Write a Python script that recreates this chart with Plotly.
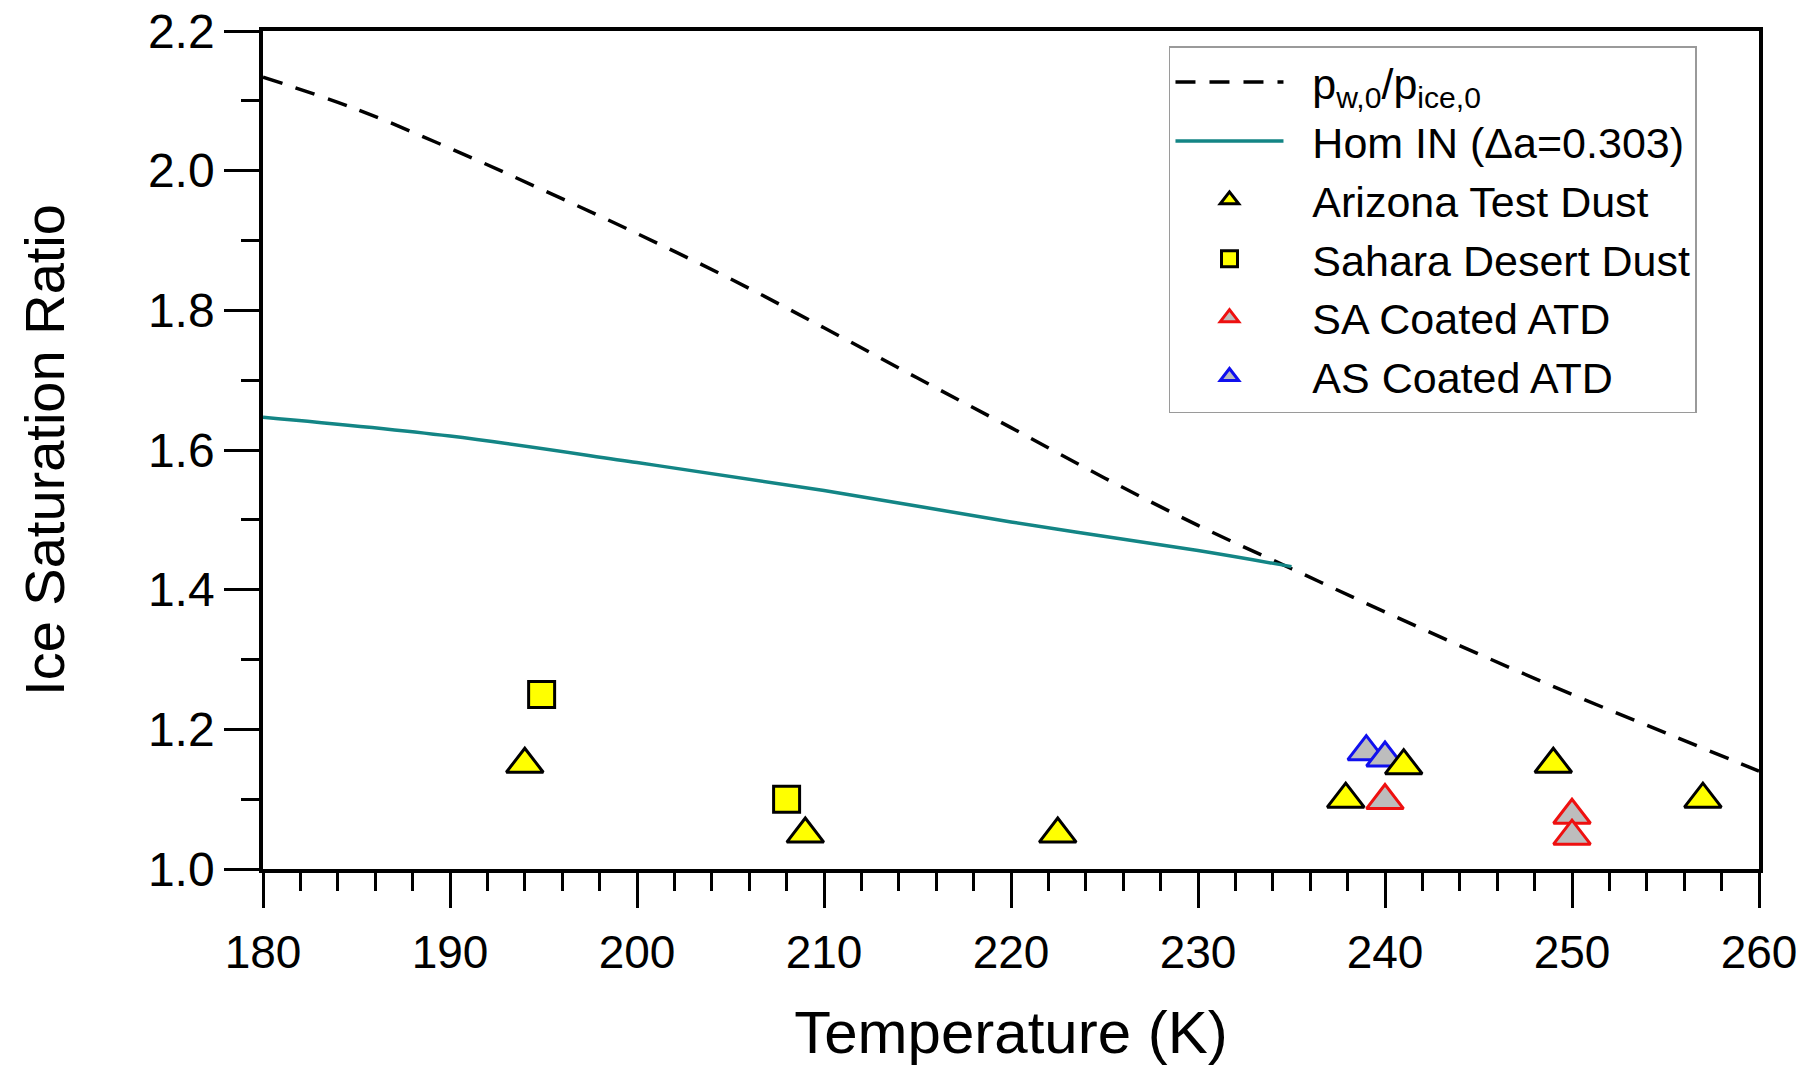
import plotly.graph_objects as go

# ---- data ----
ratio_T = [180, 185, 190, 195, 200, 205, 210, 215, 220, 225, 230, 235, 240, 245, 250, 255, 260]
ratio_S = [2.134, 2.088, 2.032, 1.972, 1.910, 1.845, 1.775, 1.703, 1.632, 1.560, 1.492, 1.430, 1.368, 1.308, 1.250, 1.195, 1.140]

hom_T = [180, 190, 200, 210, 220, 230, 235]
hom_S = [1.647, 1.620, 1.582, 1.542, 1.497, 1.456, 1.433]

atd_T = [194.0, 209.0, 222.5, 237.9, 241.0, 249.0, 257.0]
atd_S = [1.15, 1.05, 1.05, 1.10, 1.148, 1.15, 1.10]

sdd_T = [194.9, 208.0]
sdd_S = [1.25, 1.10]

sa_T = [240.0, 250.0, 250.0]
sa_S = [1.098, 1.077, 1.047]

as_T = [239.0, 240.0]
as_S = [1.168, 1.159]

x_ticks = [180, 190, 200, 210, 220, 230, 240, 250, 260]
y_ticks = [1.0, 1.2, 1.4, 1.6, 1.8, 2.0, 2.2]

FONT = "Liberation Sans, Arial, sans-serif"
PAD = "\u00a0\u00a0"

fig = go.Figure()

fig.add_trace(go.Scatter(
    x=ratio_T, y=ratio_S, mode="lines", name=PAD + "p<sub>w,0</sub>/p<sub>ice,0</sub>",
    line=dict(color="black", width=3.5, dash="20px,14px", shape="spline"), legendrank=1))
fig.add_trace(go.Scatter(
    x=hom_T, y=hom_S, mode="lines", name=PAD + "Hom IN (\u0394a=0.303)",
    line=dict(color="#138585", width=3.5, shape="spline"), legendrank=2))
fig.add_trace(go.Scatter(
    x=as_T, y=as_S, mode="markers", name=PAD + "AS Coated ATD",
    marker=dict(symbol="triangle-up", size=32, color="#bdbdbd",
                line=dict(color="#1010ee", width=3)), legendrank=6))
fig.add_trace(go.Scatter(
    x=sa_T, y=sa_S, mode="markers", name=PAD + "SA Coated ATD",
    marker=dict(symbol="triangle-up", size=32, color="#bdbdbd",
                line=dict(color="#ee1010", width=3)), legendrank=5))
fig.add_trace(go.Scatter(
    x=sdd_T, y=sdd_S, mode="markers", name=PAD + "Sahara Desert Dust",
    marker=dict(symbol="square", size=26, color="#ffff00",
                line=dict(color="black", width=3)), legendrank=4))
fig.add_trace(go.Scatter(
    x=atd_T, y=atd_S, mode="markers", name=PAD + "Arizona Test Dust",
    marker=dict(symbol="triangle-up", size=32, color="#ffff00",
                line=dict(color="black", width=3)), legendrank=3))

fig.update_layout(
    width=1818, height=1066,
    margin=dict(l=263, r=59, t=31, b=197),
    paper_bgcolor="white", plot_bgcolor="white",
    font=dict(family=FONT, color="black"),
    showlegend=True,
    legend=dict(
        x=0.6056, y=0.982, xanchor="left", yanchor="top",
        bgcolor="white", bordercolor="#9a9a9a", borderwidth=1.5,
        font=dict(family=FONT, size=43, color="black"),
        itemsizing="trace", itemwidth=108, tracegroupgap=0,
    ),
    xaxis=dict(
        range=[180, 260], tickvals=x_ticks, ticktext=[str(v) for v in x_ticks],
        ticks="outside", ticklen=35, tickwidth=3, tickcolor="black",
        minor=dict(dtick=2, ticks="outside", ticklen=18, tickwidth=3, tickcolor="black", showgrid=False),
        showline=True, linewidth=4, linecolor="black", mirror=True,
        showgrid=False, zeroline=False, automargin=False,
        tickfont=dict(family=FONT, size=46), ticklabelstandoff=5,
        title=dict(text="Temperature (K)", font=dict(family=FONT, size=60), standoff=52),
    ),
    yaxis=dict(
        range=[1.0, 2.2], tickvals=y_ticks, ticktext=["%.1f" % v for v in y_ticks],
        ticks="outside", ticklen=35, tickwidth=3, tickcolor="black",
        minor=dict(dtick=0.1, ticks="outside", ticklen=18, tickwidth=3, tickcolor="black", showgrid=False),
        showline=True, linewidth=3.5, linecolor="black", mirror=True,
        showgrid=False, zeroline=False, automargin=False,
        tickfont=dict(family=FONT, size=48), ticklabelstandoff=0,
        title=dict(text="Ice Saturation Ratio", font=dict(family=FONT, size=56), standoff=66),
    ),
)

fig.write_html("out.html")
